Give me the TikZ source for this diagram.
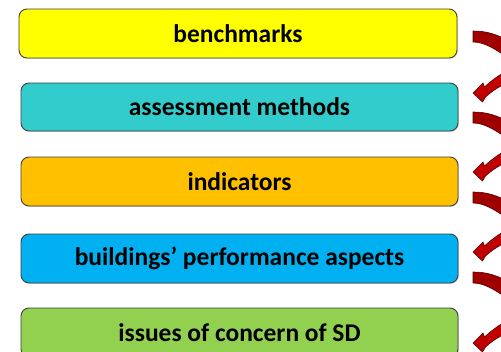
\documentclass[tikz,border=0pt]{standalone}
\usepackage{fontspec}
\setmainfont{Carlito}
\usetikzlibrary{shadows}
\definecolor{cyel}{HTML}{FFFF00}
\definecolor{cteal}{HTML}{33CCCC}
\definecolor{corange}{HTML}{FFC000}
\definecolor{cblue}{HTML}{00B0F0}
\definecolor{cgreen}{HTML}{92D050}
\definecolor{tailred}{HTML}{A00000}
\definecolor{headred}{HTML}{C00000}
\definecolor{edgered}{HTML}{5A0000}
\definecolor{boxedge}{HTML}{3F3F3F}
\tikzset{
  itembox/.style={draw=boxedge, line width=0.9pt, rounded corners=8pt,
    drop shadow={shadow xshift=0.8pt, shadow yshift=-0.8pt, opacity=0.35}},
  itemtext/.style={font=\bfseries\fontsize{25.5}{30}\selectfont, text=black},
  tailshape/.style={fill=tailred, draw=edgered, line width=0.6pt},
  headshape/.style={fill=headred, draw=edgered, line width=0.6pt}
}
\newcommand{\boxitem}[7]{% name, x1, y1, x2, y2, colour, text
  \path[itembox, fill=#6] (#2,#3) rectangle (#4,#5);
  \node[itemtext] (#1) at ({(#2+#4)/2},{(#3+#5)/2}) {#7};
}
\newcommand{\curvedarrow}[2]{% tail top y, head tip y
  \path[tailshape] (473,#1) .. controls (486,#1) and (496,#1+3) .. (507,#1+9)
     -- (507,#1+26) .. controls (496,#1+19) and (485,#1+11) .. (473,#1+11) -- cycle;
  \path[headshape] (473,#2) -- (483,#2-10) -- (484.5,#2-6)
     .. controls (490,#2-11) and (497,#2-17) .. (507,#2-22)
     -- (507,#2-10) .. controls (498,#2-6) and (491,#2-1) .. (485.5,#2+4)
     -- (482.5,#2+9) -- cycle;
}
\begin{document}
\begin{tikzpicture}[x=1pt,y=-1pt]
\useasboundingbox (0,0) rectangle (501,351);
\begin{scope}
\clip (0,0) rectangle (501,351);
\boxitem{bench}{19}{9}{457}{58}{cyel}{benchmarks}
\boxitem{assess}{21}{83}{458}{131}{cteal}{assessment methods}
\boxitem{indic}{21}{157}{458}{206}{corange}{indicators}
\boxitem{perf}{21}{234}{458}{283}{cblue}{buildings’ performance aspects}
\boxitem{issues}{21}{308}{458}{357}{cgreen}{issues of concern of SD}
\curvedarrow{31}{93}
\curvedarrow{112}{172}
\curvedarrow{192}{252}
\curvedarrow{272}{343}
\end{scope}
\end{tikzpicture}
\end{document}
